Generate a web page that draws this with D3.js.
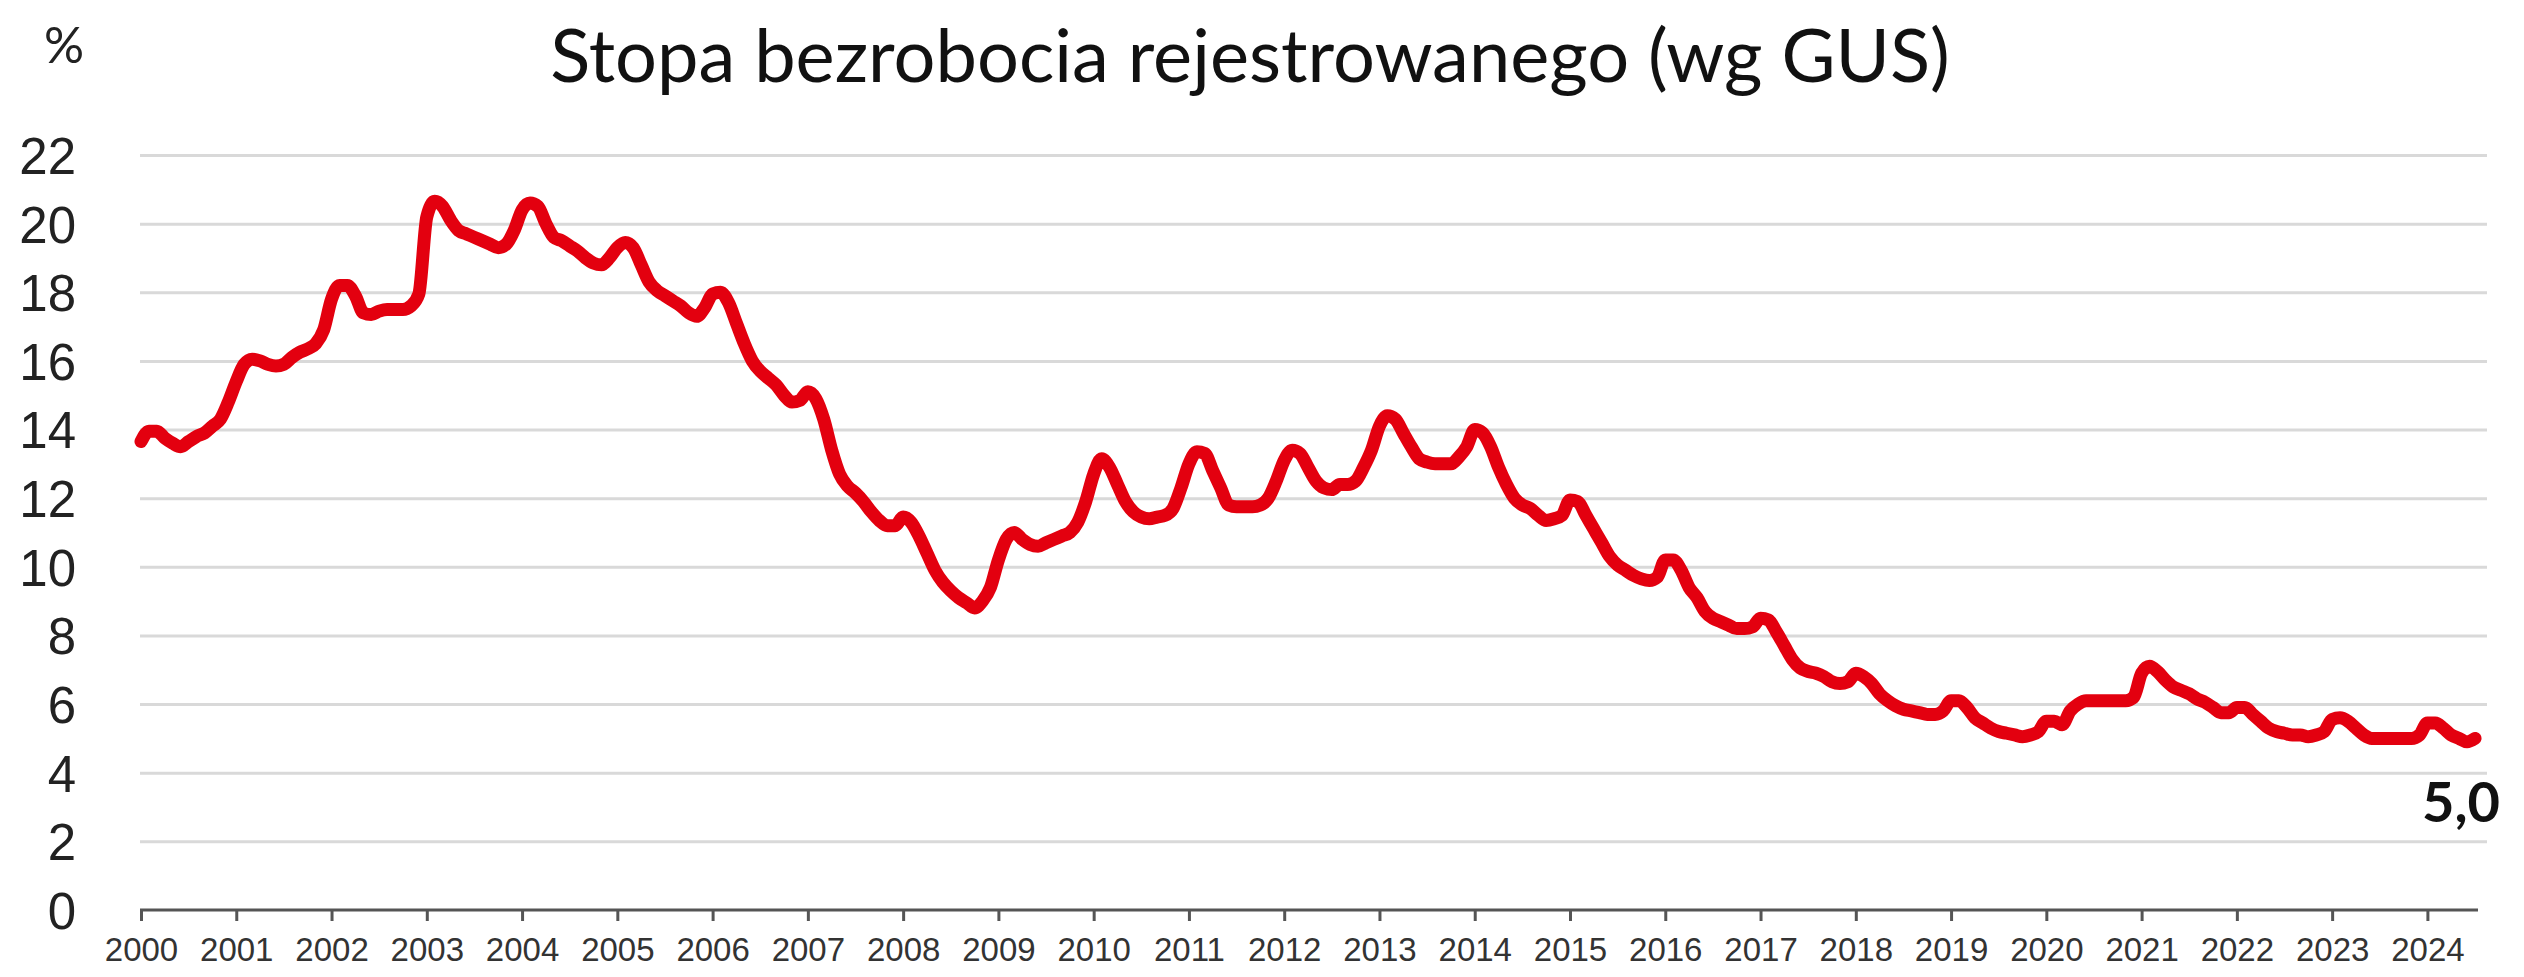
<!DOCTYPE html>
<html>
<head>
<meta charset="utf-8">
<script src="https://cdn.jsdelivr.net/npm/d3@7"></script>
<style>
  body { margin: 0; background: #fff; }
  svg { display: block; font-family: Lato, "Open Sans", sans-serif; }
</style>
</head>
<body>
<svg id="chart"></svg>
<script>
const title = "Stopa bezrobocia rejestrowanego (wg GUS)";
const unitLabel = "%";
const startYear = 2000;
const yearLabels = d3.range(2000, 2025);
const yTicks = [0, 2, 4, 6, 8, 10, 12, 14, 16, 18, 20, 22];
const lastLabel = "5,0";

// monthly registered unemployment rate, Jan 2000 - Jul 2024
const rate = [
  13.65, 13.95, 13.95, 13.75, 13.6, 13.5, 13.65, 13.8, 13.9, 14.1, 14.3, 14.8,   // 2000
  15.4, 15.9, 16.05, 16.0, 15.9, 15.85, 15.9, 16.1, 16.25, 16.35, 16.5, 16.9,    // 2001
  17.8, 18.2, 18.2, 17.9, 17.4, 17.35, 17.45, 17.5, 17.5, 17.5, 17.6, 17.95,     // 2002
  20.2, 20.65, 20.5, 20.1, 19.8, 19.7, 19.6, 19.5, 19.4, 19.3, 19.4, 19.8,       // 2003
  20.4, 20.6, 20.5, 20.0, 19.6, 19.5, 19.35, 19.2, 19.0, 18.85, 18.8, 19.0,      // 2004
  19.3, 19.45, 19.3, 18.8, 18.3, 18.05, 17.9, 17.75, 17.6, 17.4, 17.3, 17.55,    // 2005
  17.95, 18.0, 17.7, 17.1, 16.5, 16.0, 15.7, 15.5, 15.3, 15.0, 14.8, 14.85,      // 2006
  15.1, 14.9, 14.3, 13.4, 12.7, 12.35, 12.15, 11.9, 11.6, 11.35, 11.2, 11.2,     // 2007
  11.45, 11.3, 10.9, 10.4, 9.9, 9.55, 9.3, 9.1, 8.95, 8.8, 9.0, 9.4,             // 2008
  10.2, 10.8, 11.0, 10.8, 10.65, 10.6, 10.7, 10.8, 10.9, 11.0, 11.3, 11.9,       // 2009
  12.7, 13.15, 12.9, 12.4, 11.9, 11.6, 11.45, 11.4, 11.45, 11.5, 11.7, 12.3,     // 2010
  13.0, 13.35, 13.3, 12.8, 12.3, 11.8, 11.75, 11.75, 11.75, 11.8, 12.0, 12.5,    // 2011
  13.1, 13.4, 13.3, 12.9, 12.5, 12.3, 12.25, 12.4, 12.4, 12.5, 12.9, 13.4,       // 2012
  14.1, 14.4, 14.3, 13.9, 13.5, 13.15, 13.05, 13.0, 13.0, 13.0, 13.2, 13.5,      // 2013
  14.0, 13.9, 13.5, 12.9, 12.4, 12.0, 11.8, 11.7, 11.5, 11.35, 11.4, 11.5,       // 2014
  11.95, 11.9, 11.5, 11.1, 10.7, 10.3, 10.05, 9.9, 9.75, 9.65, 9.6, 9.7,         // 2015
  10.2, 10.2, 9.9, 9.4, 9.1, 8.7, 8.5, 8.4, 8.3, 8.2, 8.2, 8.25,                 // 2016
  8.5, 8.45, 8.1, 7.7, 7.3, 7.05, 6.95, 6.9, 6.8, 6.65, 6.6, 6.65,               // 2017
  6.9, 6.8, 6.6, 6.3, 6.1, 5.95, 5.85, 5.8, 5.75, 5.7, 5.7, 5.8,                 // 2018
  6.1, 6.1, 5.9, 5.6, 5.45, 5.3, 5.2, 5.15, 5.1, 5.05, 5.1, 5.2,                 // 2019
  5.5, 5.5, 5.4, 5.8, 6.0, 6.1, 6.1, 6.1, 6.1, 6.1, 6.1, 6.2,                    // 2020
  6.9, 7.1, 6.95, 6.7, 6.5, 6.4, 6.3, 6.15, 6.05, 5.9, 5.75, 5.75,               // 2021
  5.9, 5.9, 5.7, 5.5, 5.3, 5.2, 5.15, 5.1, 5.1, 5.05, 5.1, 5.2,                  // 2022
  5.55, 5.6, 5.5, 5.3, 5.1, 5.0, 5.0, 5.0, 5.0, 5.0, 5.0, 5.1,                   // 2023
  5.45, 5.45, 5.3, 5.1, 5.0, 4.9, 5.0                                            // 2024
];

const width = 2524;
const height = 977;
const margin = { top: 155, right: 41, bottom: 67, left: 140 };

const svg = d3.select("#chart")
  .attr("width", width)
  .attr("height", height);

const x = d3.scaleLinear()
  .domain([0, rate.length - 0.5])
  .range([margin.left + 1, width - margin.right - 4]);

const y = d3.scaleLinear()
  .domain([0, 22])
  .range([height - margin.bottom, margin.top]);

// gridlines + y labels
const yAxis = svg.append("g")
  .attr("transform", `translate(${margin.left},0)`)
  .call(d3.axisLeft(y)
    .tickValues(yTicks)
    .tickSize(-(width - margin.left - margin.right + 4))
    .tickPadding(64)
    .tickFormat(d3.format("d")));

yAxis.select(".domain").remove();
yAxis.selectAll(".tick line")
  .attr("stroke", "#d9d9d9")
  .attr("stroke-width", 3)
  .filter(d => d === 0).remove();
yAxis.selectAll(".tick text")
  .attr("fill", "#222")
  .attr("font-size", 51)
  .attr("dy", "0.36em");

// x axis with year ticks
const xAxis = svg.append("g")
  .attr("transform", `translate(0,${y(0)})`)
  .call(d3.axisBottom(x)
    .tickValues(yearLabels.map(yr => (yr - startYear) * 12))
    .tickSize(11)
    .tickPadding(17)
    .tickFormat(d => yearLabels[d / 12]));

xAxis.select(".domain")
  .attr("stroke", "#555")
  .attr("stroke-width", 3)
  .attr("d", `M${margin.left},0H${width - margin.right - 5}`);
xAxis.selectAll(".tick line")
  .attr("stroke", "#555")
  .attr("stroke-width", 3);
xAxis.selectAll(".tick text")
  .attr("fill", "#333")
  .attr("font-size", 33);

// the series
const line = d3.line()
  .x((d, i) => x(i))
  .y(d => y(d))
  .curve(d3.curveMonotoneX);

svg.append("path")
  .datum(rate)
  .attr("fill", "none")
  .attr("stroke", "#e3000f")
  .attr("stroke-width", 13)
  .attr("stroke-linejoin", "round")
  .attr("stroke-linecap", "round")
  .attr("d", line);

// last value label
const lastIdx = rate.length - 1;
svg.append("text")
  .attr("x", x(lastIdx) - 14)
  .attr("y", y(rate[lastIdx]) + 84)
  .attr("text-anchor", "middle")
  .attr("font-size", 56)
  .attr("font-weight", "bold")
  .attr("fill", "#111")
  .text(lastLabel);

// title and unit
svg.append("text")
  .attr("x", 1250)
  .attr("y", 82)
  .attr("text-anchor", "middle")
  .attr("font-size", 74)
  .attr("fill", "#111")
  .text(title);

svg.append("text")
  .attr("x", 64)
  .attr("y", 63)
  .attr("text-anchor", "middle")
  .attr("font-size", 50)
  .attr("fill", "#222")
  .text(unitLabel);
</script>
</body>
</html>
